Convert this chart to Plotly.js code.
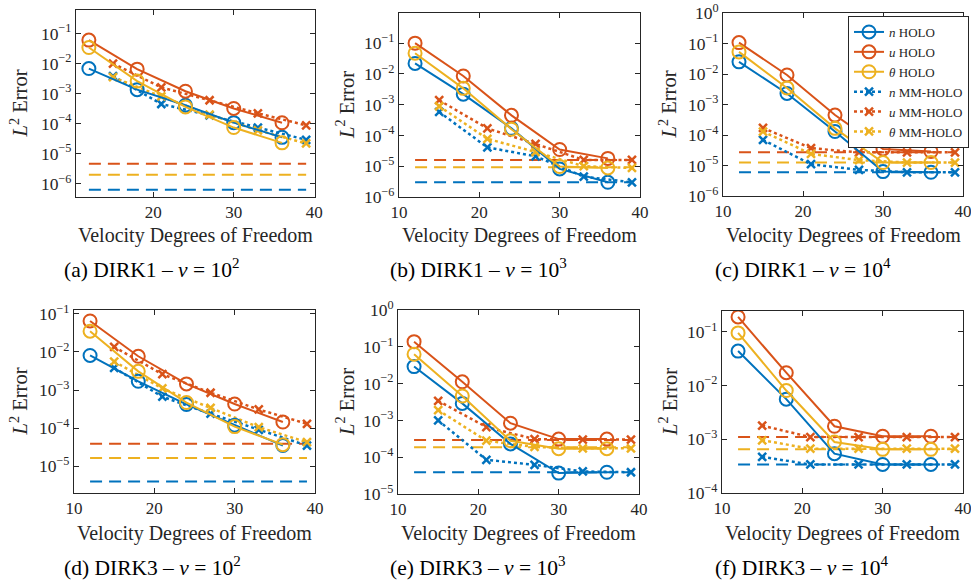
<!DOCTYPE html>
<html>
<head>
<meta charset="utf-8">
<script src="https://cdn.plot.ly/plotly-3.0.1.min.js"></script>
<style>html,body{margin:0;padding:0;background:#fff;}#chart{width:971px;height:583px;}</style>
</head>
<body>
<div id="chart"></div>
<script>
// ---------- DATA ----------
const xHolo = [12, 18, 24, 30, 36];
const xMM = [15, 21, 27, 33, 39];
const xRef = [12, 39];
const seriesNames = ['<i>n</i> HOLO', '<i>u</i> HOLO', '<i>θ</i> HOLO', '<i>n</i> MM-HOLO', '<i>u</i> MM-HOLO', '<i>θ</i> MM-HOLO'];
const captions = ['(a) DIRK1 – <i>ν</i> = 10<sup>2</sup>', '(b) DIRK1 – <i>ν</i> = 10<sup>3</sup>', '(c) DIRK1 – <i>ν</i> = 10<sup>4</sup>',
                  '(d) DIRK3 – <i>ν</i> = 10<sup>2</sup>', '(e) DIRK3 – <i>ν</i> = 10<sup>3</sup>', '(f) DIRK3 – <i>ν</i> = 10<sup>4</sup>'];
const xTickVals = [10, 20, 30, 40];
const yTickExps = [0, -1, -2, -3, -4, -5, -6];

// (a) DIRK1 nu=1e2
const a_nHolo = [6.8e-3, 1.35e-3, 4.1e-4, 1.08e-4, 3.5e-5];
const a_uHolo = [6.0e-2, 6.5e-3, 1.2e-3, 3.2e-4, 1.07e-4];
const a_thHolo = [3.4e-2, 2.6e-3, 3.6e-4, 7.4e-5, 2.3e-5];
const a_nMM = [3.8e-3, 4.5e-4, 1.9e-4, 7.4e-5, 2.9e-5];
const a_uMM = [1.0e-2, 1.6e-3, 6.0e-4, 2.2e-4, 8.8e-5];
const a_thMM = [3.5e-3, 8.0e-4, 2.0e-4, 6.0e-5, 2.2e-5];
const a_ref = [6.3e-7, 4.6e-6, 2.0e-6];

// (b) DIRK1 nu=1e3
const b_nHolo = [2.2e-2, 2.2e-3, 1.7e-4, 8.2e-6, 3.0e-6];
const b_uHolo = [1.0e-1, 8.6e-3, 4.5e-4, 3.5e-5, 1.8e-5];
const b_thHolo = [4.7e-2, 3.4e-3, 1.6e-4, 9.8e-6, 8.8e-6];
const b_nMM = [5.8e-4, 4.1e-5, 2.1e-5, 4.6e-6, 3.0e-6];
const b_uMM = [1.4e-3, 1.7e-4, 5.3e-5, 1.6e-5, 1.6e-5];
const b_thMM = [8.9e-4, 7.8e-5, 2.9e-5, 1.0e-5, 8.8e-6];
const b_ref = [3.0e-6, 1.6e-5, 9.3e-6];

// (c) DIRK1 nu=1e4
const c_nHolo = [2.5e-2, 2.3e-3, 1.3e-4, 6.3e-6, 6.0e-6];
const c_uHolo = [1.07e-1, 9.3e-3, 4.5e-4, 3.5e-5, 2.9e-5];
const c_thHolo = [5.3e-2, 3.5e-3, 1.65e-4, 1.25e-5, 1.25e-5];
const c_nMM = [6.9e-5, 1.1e-5, 7.2e-6, 6.0e-6, 6.0e-6];
const c_uMM = [1.7e-4, 3.7e-5, 2.7e-5, 2.7e-5, 2.7e-5];
const c_thMM = [1.3e-4, 2.4e-5, 1.5e-5, 1.25e-5, 1.25e-5];
const c_ref = [6.0e-6, 2.7e-5, 1.25e-5];

// (d) DIRK3 nu=1e2
const d_nHolo = [8.1e-3, 1.7e-3, 4.2e-4, 1.2e-4, 3.5e-5];
const d_uHolo = [6.5e-2, 7.7e-3, 1.45e-3, 4.3e-4, 1.45e-4];
const d_thHolo = [3.5e-2, 3.1e-3, 4.7e-4, 1.1e-4, 3.7e-5];
const d_nMM = [3.8e-3, 6.7e-4, 2.4e-4, 9.0e-5, 3.5e-5];
const d_uMM = [1.35e-2, 2.6e-3, 8.5e-4, 3.1e-4, 1.3e-4];
const d_thMM = [5.6e-3, 1.1e-3, 3.4e-4, 1.06e-4, 4.3e-5];
const d_ref = [4.0e-6, 3.9e-5, 1.66e-5];

// (e) DIRK3 nu=1e3
const e_nHolo = [2.9e-2, 2.9e-3, 2.3e-4, 3.7e-5, 3.9e-5];
const e_uHolo = [1.38e-1, 1.12e-2, 8.4e-4, 3.1e-4, 3.1e-4];
const e_thHolo = [6.3e-2, 4.6e-3, 2.8e-4, 1.7e-4, 1.7e-4];
const e_nMM = [1.0e-3, 8.5e-5, 6.2e-5, 4.1e-5, 3.9e-5];
const e_uMM = [3.4e-3, 6.6e-4, 3.1e-4, 3.0e-4, 3.0e-4];
const e_thMM = [1.9e-3, 2.8e-4, 1.9e-4, 1.75e-4, 1.75e-4];
const e_ref = [3.9e-5, 2.95e-4, 1.86e-4];

// (f) DIRK3 nu=1e4
const f_nHolo = [4.4e-2, 5.6e-3, 5.4e-4, 3.4e-4, 3.4e-4];
const f_uHolo = [1.9e-1, 1.74e-2, 1.75e-3, 1.14e-3, 1.14e-3];
const f_thHolo = [9.6e-2, 8.1e-3, 8.9e-4, 6.5e-4, 6.5e-4];
const f_nMM = [4.7e-4, 3.4e-4, 3.4e-4, 3.4e-4, 3.4e-4];
const f_uMM = [1.8e-3, 1.1e-3, 1.1e-3, 1.1e-3, 1.1e-3];
const f_thMM = [9.6e-4, 6.7e-4, 6.7e-4, 6.7e-4, 6.7e-4];
const f_ref = [3.4e-4, 1.1e-3, 6.5e-4];

// ---------- LAYOUT / STYLE ----------
const W = 971, H = 583;
const colors = ['#0072BD', '#D95319', '#EDB120'];
const FONT = 'Liberation Serif, Times New Roman, serif';
const INK = '#262626';
const XTICKFONT = {family: FONT, size: 17, color: INK};

const panels = [
  {data: [a_nHolo, a_uHolo, a_thHolo, a_nMM, a_uMM, a_thMM], ref: a_ref, box: [76, 315, 10, 197], xr: [10.4, 40.1], yr: [-6.44, -0.22]},
  {data: [b_nHolo, b_uHolo, b_thHolo, b_nMM, b_uMM, b_thMM], ref: b_ref, box: [399, 640, 13, 197], xr: [10, 40], yr: [-6, -0.02]},
  {data: [c_nHolo, c_uHolo, c_thHolo, c_nMM, c_uMM, c_thMM], ref: c_ref, box: [723, 963, 13, 196], xr: [10, 40], yr: [-6, 0]},
  {data: [d_nHolo, d_uHolo, d_thHolo, d_nMM, d_uMM, d_thMM], ref: d_ref, box: [74, 315, 310, 493], xr: [10, 40], yr: [-5.7, -0.9]},
  {data: [e_nHolo, e_uHolo, e_thHolo, e_nMM, e_uMM, e_thMM], ref: e_ref, box: [398, 639, 310, 494], xr: [10, 40], yr: [-5, 0]},
  {data: [f_nHolo, f_uHolo, f_thHolo, f_nMM, f_uMM, f_thMM], ref: f_ref, box: [722, 963, 311, 493], xr: [10, 40], yr: [-4, -0.61]}
];
const yTitleX = [18, 345, 668, 18, 345, 668];
const captionX = [152, 478, 803, 152, 478, 802];

const traces = [];
const layout = {
  width: W, height: H,
  margin: {l: 0, r: 0, t: 0, b: 0},
  paper_bgcolor: '#ffffff', plot_bgcolor: '#ffffff',
  font: {family: FONT, size: 16, color: INK},
  showlegend: true,
  legend: {
    x: 848 / W, y: 1 - 16 / H, xanchor: 'left', yanchor: 'top',
    bgcolor: '#ffffff', bordercolor: INK, borderwidth: 1,
    font: {family: FONT, size: 13, color: INK},
    tracegroupgap: 0, itemwidth: 30
  },
  annotations: []
};

panels.forEach((p, i) => {
  const k = i + 1;
  const xa = 'x' + (k === 1 ? '' : k), ya = 'y' + (k === 1 ? '' : k);
  const xk = 'xaxis' + (k === 1 ? '' : k), yk = 'yaxis' + (k === 1 ? '' : k);
  const [l, r, t, b] = p.box;
  layout[xk] = {
    domain: [l / W, r / W], range: p.xr, anchor: ya,
    tickmode: 'array', tickvals: xTickVals, ticklabeloverflow: 'allow',
    ticks: 'inside', ticklen: 5, tickcolor: INK, tickwidth: 1,
    showline: true, linecolor: INK, linewidth: 1, mirror: 'ticks',
    showgrid: false, zeroline: false,
    tickfont: XTICKFONT
  };
  layout[yk] = {
    domain: [1 - b / H, 1 - t / H], type: 'log', range: p.yr, anchor: xa,
    tickmode: 'array', tickvals: yTickExps.map(e => Math.pow(10, e)),
    ticktext: yTickExps.map(e => '10<sup>' + (e < 0 ? '−' + (-e) : e) + '</sup>'),
    ticks: 'inside', ticklen: 5, tickcolor: INK, tickwidth: 1,
    showline: true, linecolor: INK, linewidth: 1, mirror: 'ticks',
    showgrid: false, zeroline: false,
    tickfont: {family: FONT, size: 17.5, color: INK}
  };
  p.ref.forEach((v, j) => {
    traces.push({
      x: xRef, y: [v, v], xaxis: xa, yaxis: ya, mode: 'lines', showlegend: false,
      line: {color: colors[j], width: 2, dash: '12px,7px'}, hoverinfo: 'skip'
    });
  });
  for (let j = 0; j < 3; j++) {
    traces.push({
      x: xMM, y: p.data[3 + j], xaxis: xa, yaxis: ya, mode: 'lines+markers',
      name: seriesNames[3 + j], legendrank: 4 + j, showlegend: i === 2,
      line: {color: colors[j], width: 2.5, dash: 'dot'},
      marker: {symbol: 'x-thin-open', size: 8, color: colors[j], line: {color: colors[j], width: 2.5}}
    });
  }
  for (let j = 0; j < 3; j++) {
    traces.push({
      x: xHolo, y: p.data[j], xaxis: xa, yaxis: ya, mode: 'lines+markers',
      name: seriesNames[j], legendrank: 1 + j, showlegend: i === 2,
      line: {color: colors[j], width: 2},
      marker: {symbol: 'circle-open', size: 13, color: colors[j], line: {color: colors[j], width: 2}}
    });
  }
  const row2 = i >= 3;
  layout.annotations.push({
    xref: 'paper', yref: 'paper', x: ((l + r) / 2) / W, y: 1 - (row2 ? 533 : 235) / H,
    xanchor: 'center', yanchor: 'middle', showarrow: false,
    text: 'Velocity Degrees of Freedom', font: {family: FONT, size: 20, color: INK}
  });
  layout.annotations.push({
    xref: 'paper', yref: 'paper', x: yTitleX[i] / W, y: 1 - ((t + b) / 2) / H,
    xanchor: 'center', yanchor: 'middle', showarrow: false, textangle: -90,
    text: '<i>L</i><sup>2</sup> Error', font: {family: FONT, size: 20.5, color: INK}
  });
  layout.annotations.push({
    xref: 'paper', yref: 'paper', x: captionX[i] / W, y: 1 - (row2 ? 566 : 268) / H,
    xanchor: 'center', yanchor: 'middle', showarrow: false,
    text: captions[i], font: {family: FONT, size: 21.5, color: '#000000'}
  });
});

Plotly.newPlot('chart', traces, layout, {staticPlot: true, displayModeBar: false}).then(gd => {
  // If Plotly dropped the last x tick label ("40") at the right page edge,
  // restore it as a text placed through that axis' own scale.
  const extra = [];
  panels.forEach((p, i) => {
    const k = i + 1;
    const name = 'x' + (k === 1 ? '' : k);
    const texts = Array.from(gd.querySelectorAll('.' + name + 'tick text'));
    const last = String(xTickVals[xTickVals.length - 1]);
    const prev = String(xTickVals[xTickVals.length - 2]);
    const tLast = texts.find(t => t.textContent === last);
    if (tLast) {
      const bb = tLast.getBoundingClientRect();
      const cs = window.getComputedStyle(tLast);
      if (bb.width > 0 && cs.display !== 'none' && cs.opacity !== '0' && cs.visibility !== 'hidden') return;
    }
    const refText = texts.find(t => t.textContent === prev);
    if (!refText) return;
    const rb = refText.getBoundingClientRect();
    const gb = gd.getBoundingClientRect();
    extra.push({
      xref: name, yref: 'paper', x: xTickVals[xTickVals.length - 1],
      y: 1 - ((rb.top + rb.bottom) / 2 - gb.top) / H,
      xanchor: 'center', yanchor: 'middle', showarrow: false,
      text: last, font: XTICKFONT
    });
  });
  if (extra.length) Plotly.relayout(gd, {annotations: layout.annotations.concat(extra)});
});
</script>
</body>
</html>
